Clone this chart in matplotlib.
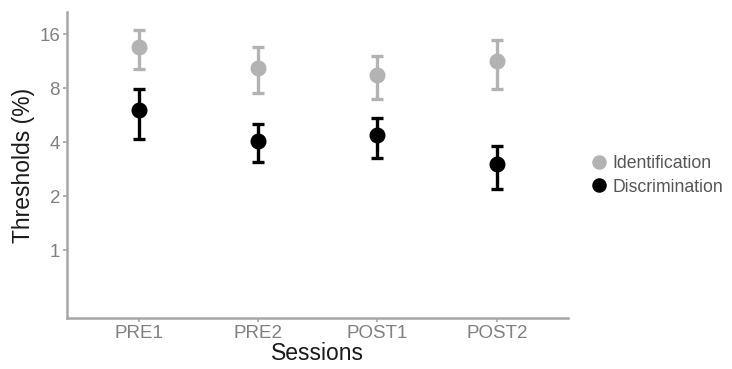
import matplotlib.pyplot as plt
import numpy as np

plt.rcParams['font.family'] = ['Liberation Sans', 'DejaVu Sans']

sessions = ['PRE1', 'PRE2', 'POST1', 'POST2']
ident_mean = [13.5, 10.4, 9.45, 11.3]
ident_low = [10.2, 7.53, 6.97, 7.93]
ident_high = [16.8, 13.5, 12.06, 14.75]
discr_mean = [6.03, 4.07, 4.36, 3.02]
discr_low = [4.14, 3.11, 3.26, 2.2]
discr_high = [7.9, 5.02, 5.46, 3.82]
yticks = [1, 2, 4, 8, 16]

fig = plt.figure(figsize=(7.32, 3.69), dpi=100)
ax = fig.add_axes([0.0915, 0.138, 0.685, 0.829])

x = np.arange(1, len(sessions) + 1)
series = [
    ('Identification', ident_mean, ident_low, ident_high, '#b3b3b3'),
    ('Discrimination', discr_mean, discr_low, discr_high, '#000000'),
]
for name, m, lo, hi, col in series:
    m = np.array(m)
    err = [m - np.array(lo), np.array(hi) - m]
    ax.errorbar(x, m, yerr=err, fmt='none', ecolor=col, elinewidth=2.4,
                capsize=4.5, capthick=2.4, zorder=2)
    ax.plot(x, m, 'o', color=col, markersize=10.5, label=name, zorder=3)

ax.set_yscale('log', base=2)
ax.set_ylim(0.418, 21.2)
ax.set_xlim(0.4, 4.6)
ax.set_yticks(yticks)
ax.set_yticklabels([str(v) for v in yticks])
ax.minorticks_off()
ax.set_xticks(x)
ax.set_xticklabels(sessions)

for s in ['top', 'right']:
    ax.spines[s].set_visible(False)
for s in ['left', 'bottom']:
    ax.spines[s].set_color('#a6a6a6')
    ax.spines[s].set_linewidth(1.8)
ax.tick_params(colors='#a6a6a6', labelcolor='#808080', labelsize=13.5,
               length=3, width=1.2, pad=2)

ax.set_xlabel('Sessions', fontsize=16.5, color='#1a1a1a', labelpad=0)
ax.set_ylabel('Thresholds (%)', fontsize=16.5, color='#1a1a1a', labelpad=3)

leg = fig.legend(loc='center left', bbox_to_anchor=(0.8, 0.525), frameon=False,
                 fontsize=12.7, handletextpad=0.4, labelspacing=0.38,
                 handlelength=0.7, borderaxespad=0, markerscale=0.9)
for t in leg.get_texts():
    t.set_color('#555555')

plt.savefig('out.png', dpi=100)
